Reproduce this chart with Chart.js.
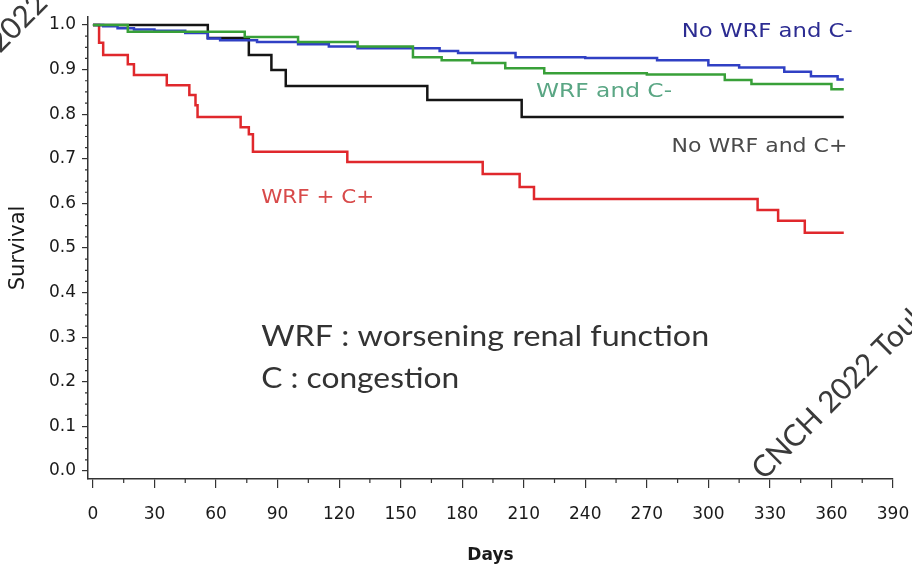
<!DOCTYPE html>
<html>
<head>
<meta charset="utf-8">
<script src="https://cdn.jsdelivr.net/npm/chart.js@4.4.0/dist/chart.umd.min.js"></script>
<style>
    html, body { margin: 0; padding: 0; background: #fff; }
    #wrap { width: 912px; height: 566px; }
</style>
</head>
<body>
<div id="wrap"><canvas id="chart-km"></canvas></div>
<script>
// tick labels
const dayTicks = [0, 30, 60, 90, 120, 150, 180, 210, 240, 270, 300, 330, 360, 390];
const survTicks = [0.0, 0.1, 0.2, 0.3, 0.4, 0.5, 0.6, 0.7, 0.8, 0.9, 1.0];

// No WRF and C-
const blueDays = [0, 5, 12, 20, 30, 45, 56, 62, 80, 100, 115, 129, 169, 178, 206, 240, 275, 300, 315, 337, 350, 363, 366];
const blueSurv = [1.0, 0.997, 0.993, 0.990, 0.987, 0.982, 0.970, 0.966, 0.962, 0.957, 0.952, 0.948, 0.942, 0.937, 0.928, 0.926, 0.921, 0.910, 0.905, 0.895, 0.885, 0.878, 0.878];

// WRF and C-
const greenDays = [0, 17, 74, 100, 129, 156, 170, 185, 201, 220, 270, 308, 321, 360, 366];
const greenSurv = [1.0, 0.985, 0.973, 0.962, 0.952, 0.928, 0.921, 0.915, 0.903, 0.892, 0.889, 0.877, 0.868, 0.856, 0.856];

// No WRF and C+
const blackDays = [0, 56, 76, 87, 94, 163, 209, 366];
const blackSurv = [1.0, 0.971, 0.933, 0.899, 0.863, 0.832, 0.794, 0.794];

// WRF + C+
const redDays = [0, 3, 5, 17, 20, 36, 47, 50, 51, 72, 76, 78, 124, 190, 208, 215, 324, 334, 347, 366];
const redSurv = [1.0, 0.96, 0.933, 0.912, 0.888, 0.865, 0.843, 0.82, 0.794, 0.771, 0.755, 0.716, 0.693, 0.666, 0.637, 0.610, 0.585, 0.561, 0.534, 0.534];

const toPoints = (days, surv) => days.map((d, i) => ({ x: d, y: surv[i] }));

const curveLabels = [
    { text: "No WRF and C-", day: 287, surv: 0.973, color: "#2c2c92", width: 171 },
    { text: "WRF and C-", day: 216, surv: 0.839, color: "#5aa684", width: 136 },
    { text: "No WRF and C+", day: 282, surv: 0.715, color: "#4a4a4a", width: 176 },
    { text: "WRF + C+", day: 82, surv: 0.600, color: "#d84a4a", width: 113 },
];

function fitText(ctx, text, x, y, width) {
    const w = ctx.measureText(text).width;
    ctx.save();
    ctx.translate(x, y);
    ctx.scale(width / w, 1);
    ctx.fillText(text, 0, 0);
    ctx.restore();
}

const extras = {
    id: "extras",
    afterDraw(chart) {
        const ctx = chart.ctx;
        const xs = chart.scales.x;
        const ys = chart.scales.y;
        const area = chart.chartArea;

        // minor ticks
        ctx.save();
        ctx.strokeStyle = "#333";
        ctx.lineWidth = 1.2;
        ctx.beginPath();
        for (let d = 15; d < 390; d += 30) {
            const px = xs.getPixelForValue(d);
            ctx.moveTo(px, area.bottom);
            ctx.lineTo(px, area.bottom + 4);
        }
        for (let k = 0; k < 40; k++) {
            if (k % 4 === 0) continue;
            const py = ys.getPixelForValue(k * 0.025);
            ctx.moveTo(area.left, py);
            ctx.lineTo(area.left - 3, py);
        }
        ctx.stroke();
        ctx.restore();

        // curve labels
        ctx.save();
        ctx.font = "19px 'DejaVu Sans'";
        ctx.textBaseline = "alphabetic";
        curveLabels.forEach((l) => {
            ctx.fillStyle = l.color;
            fitText(ctx, l.text, xs.getPixelForValue(l.day), ys.getPixelForValue(l.surv), l.width);
        });

        // note
        ctx.fillStyle = "#333";
        ctx.font = "28px Lato";
        fitText(ctx, "WRF : worsening renal function", xs.getPixelForValue(82), ys.getPixelForValue(0.28), 448);
        fitText(ctx, "C : congestion", xs.getPixelForValue(82), ys.getPixelForValue(0.186), 198);

        // watermarks
        ctx.fillStyle = "#3a3a3a";
        ctx.font = "30px Lato";
        ctx.save();
        ctx.translate(764, 481);
        ctx.rotate(-Math.PI / 4);
        ctx.fillText("CNCH 2022 Toulouse", 0, 0);
        ctx.restore();
        ctx.save();
        ctx.translate(0, 54);
        ctx.rotate(-Math.PI / 4);
        ctx.fillText("CNCH 2022 Toulouse", -ctx.measureText("CNCH ").width, 0);
        ctx.restore();
        ctx.restore();
    },
};

const lineStyle = { borderWidth: 2.5, pointRadius: 0, stepped: "before", fill: false, tension: 0 };

new Chart(document.getElementById("chart-km").getContext("2d"), {
    type: "line",
    data: {
        datasets: [
            { label: "No WRF and C-", data: toPoints(blueDays, blueSurv), borderColor: "#3040c4", order: 2, ...lineStyle },
            { label: "WRF and C-", data: toPoints(greenDays, greenSurv), borderColor: "#38a038", order: 1, ...lineStyle },
            { label: "No WRF and C+", data: toPoints(blackDays, blackSurv), borderColor: "#151515", order: 3, ...lineStyle },
            { label: "WRF + C+", data: toPoints(redDays, redSurv), borderColor: "#e0282c", order: 4, ...lineStyle },
        ],
    },
    options: {
        responsive: true,
        maintainAspectRatio: false,
        animation: false,
        layout: { padding: { left: 0, top: 17, right: 19, bottom: 0 } },
        plugins: {
            legend: { display: false },
            tooltip: { enabled: false },
        },
        scales: {
            x: {
                type: "linear",
                min: -2.4,
                max: 390,
                afterBuildTicks: (scale) => { scale.ticks = dayTicks.map((v) => ({ value: v })); },
                afterFit: (scale) => { scale.height = 87; scale.paddingLeft = 0; scale.paddingRight = 0; },
                border: { color: "#333", width: 1.5 },
                grid: { drawOnChartArea: false, drawTicks: true, tickLength: 9, color: "#333", lineWidth: 1.2 },
                ticks: { color: "#1a1a1a", font: { family: "'DejaVu Sans'", size: 17 }, padding: 16, maxRotation: 0, autoSkip: false },
                title: { display: true, text: "Days", color: "#1a1a1a", font: { family: "'DejaVu Sans'", size: 17, weight: "bold" }, padding: { top: 0, bottom: 0 } },
            },
            y: {
                type: "linear",
                min: -0.018,
                max: 1.018,
                afterBuildTicks: (scale) => { scale.ticks = survTicks.map((v) => ({ value: v })); },
                afterFit: (scale) => { scale.width = 88; scale.paddingTop = 0; scale.paddingBottom = 0; },
                border: { color: "#333", width: 1.5 },
                grid: { drawOnChartArea: false, drawTicks: true, tickLength: 6, color: "#333", lineWidth: 1.2 },
                ticks: { color: "#1a1a1a", font: { family: "'DejaVu Sans'", size: 17 }, padding: 6, callback: (v) => v.toFixed(1) },
                title: { display: true, text: "Survival", color: "#1a1a1a", font: { family: "'DejaVu Sans'", size: 21 }, padding: { top: 6, bottom: 0 } },
            },
        },
    },
    plugins: [extras],
});
</script>
</body>
</html>
